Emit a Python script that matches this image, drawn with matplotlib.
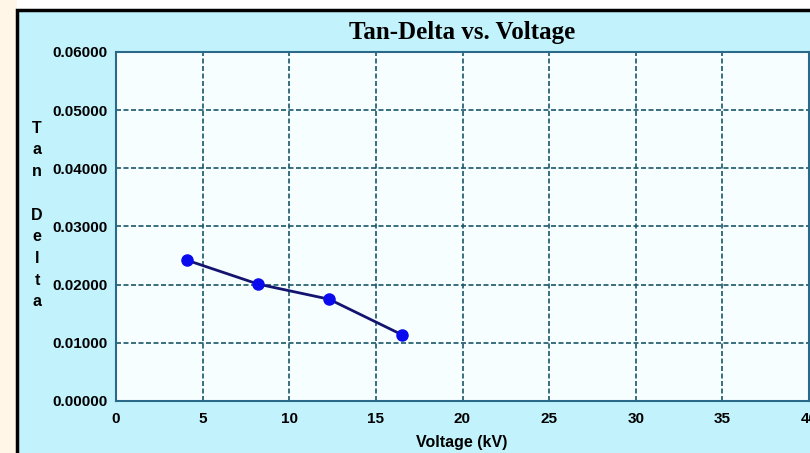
import matplotlib.pyplot as plt
from matplotlib.patches import Rectangle
from matplotlib.ticker import FormatStrFormatter, MultipleLocator

# Tan-delta readings
voltage_kv = [4.1, 8.2, 12.3, 16.5]
tan_delta = [0.0242, 0.0201, 0.0175, 0.0114]

W, H = 810, 453
fig = plt.figure(figsize=(W / 100, H / 100), dpi=100)
fig.patch.set_facecolor("white")

# cream strip on the left, cyan panel with black frame
fig.patches.append(Rectangle((0, 0), 17 / W, 1, transform=fig.transFigure,
                             facecolor="#fff6e8", edgecolor="none", zorder=-2))
fig.patches.append(Rectangle((17 / W, -0.2), 2, 1.2 - 10 / H, transform=fig.transFigure,
                             facecolor="#c2f3fd", edgecolor="black", linewidth=2.5, zorder=-2))

ax = fig.add_axes([116 / W, 1 - 401 / H, (809 - 116) / W, (401 - 52) / H])
ax.set_facecolor("#f7feff")

ax.plot(voltage_kv, tan_delta, color="#141470", linewidth=2, zorder=3)
ax.plot(voltage_kv, tan_delta, "o", color="#0a0aee", markersize=8, zorder=4)

ax.set_xlim(0, 40)
ax.set_ylim(0, 0.06)
ax.xaxis.set_major_locator(MultipleLocator(5))
ax.yaxis.set_major_locator(MultipleLocator(0.01))
ax.yaxis.set_major_formatter(FormatStrFormatter("%.5f"))
ax.grid(True, color="#1a5668", linestyle=(0, (3, 1.5)), linewidth=1.2)
ax.set_axisbelow(True)
ax.tick_params(axis="y", length=0, pad=6)
ax.tick_params(axis="x", length=0, pad=8)
for lab in ax.get_xticklabels() + ax.get_yticklabels():
    lab.set_fontfamily("Liberation Sans")
    lab.set_fontweight("bold")
    lab.set_fontsize(11)
for s in ax.spines.values():
    s.set_color("#2a6a88")
    s.set_linewidth(1.5)

fig.text(462 / W, 1 - 33 / H, "Tan-Delta vs. Voltage", ha="center", va="center",
         family="Liberation Serif", fontweight="bold", fontsize=18)
fig.text(462 / W, 1 - 442 / H, "Voltage (kV)", ha="center", va="center",
         family="Liberation Sans", fontweight="bold", fontsize=11.5)
fig.text(37 / W, 1 - 215 / H, "\n".join("Tan Delta"), ha="center", va="center",
         family="Liberation Sans", fontweight="bold", fontsize=11.5, linespacing=1.56)

fig.savefig("out.png", dpi=100, facecolor=fig.get_facecolor())
